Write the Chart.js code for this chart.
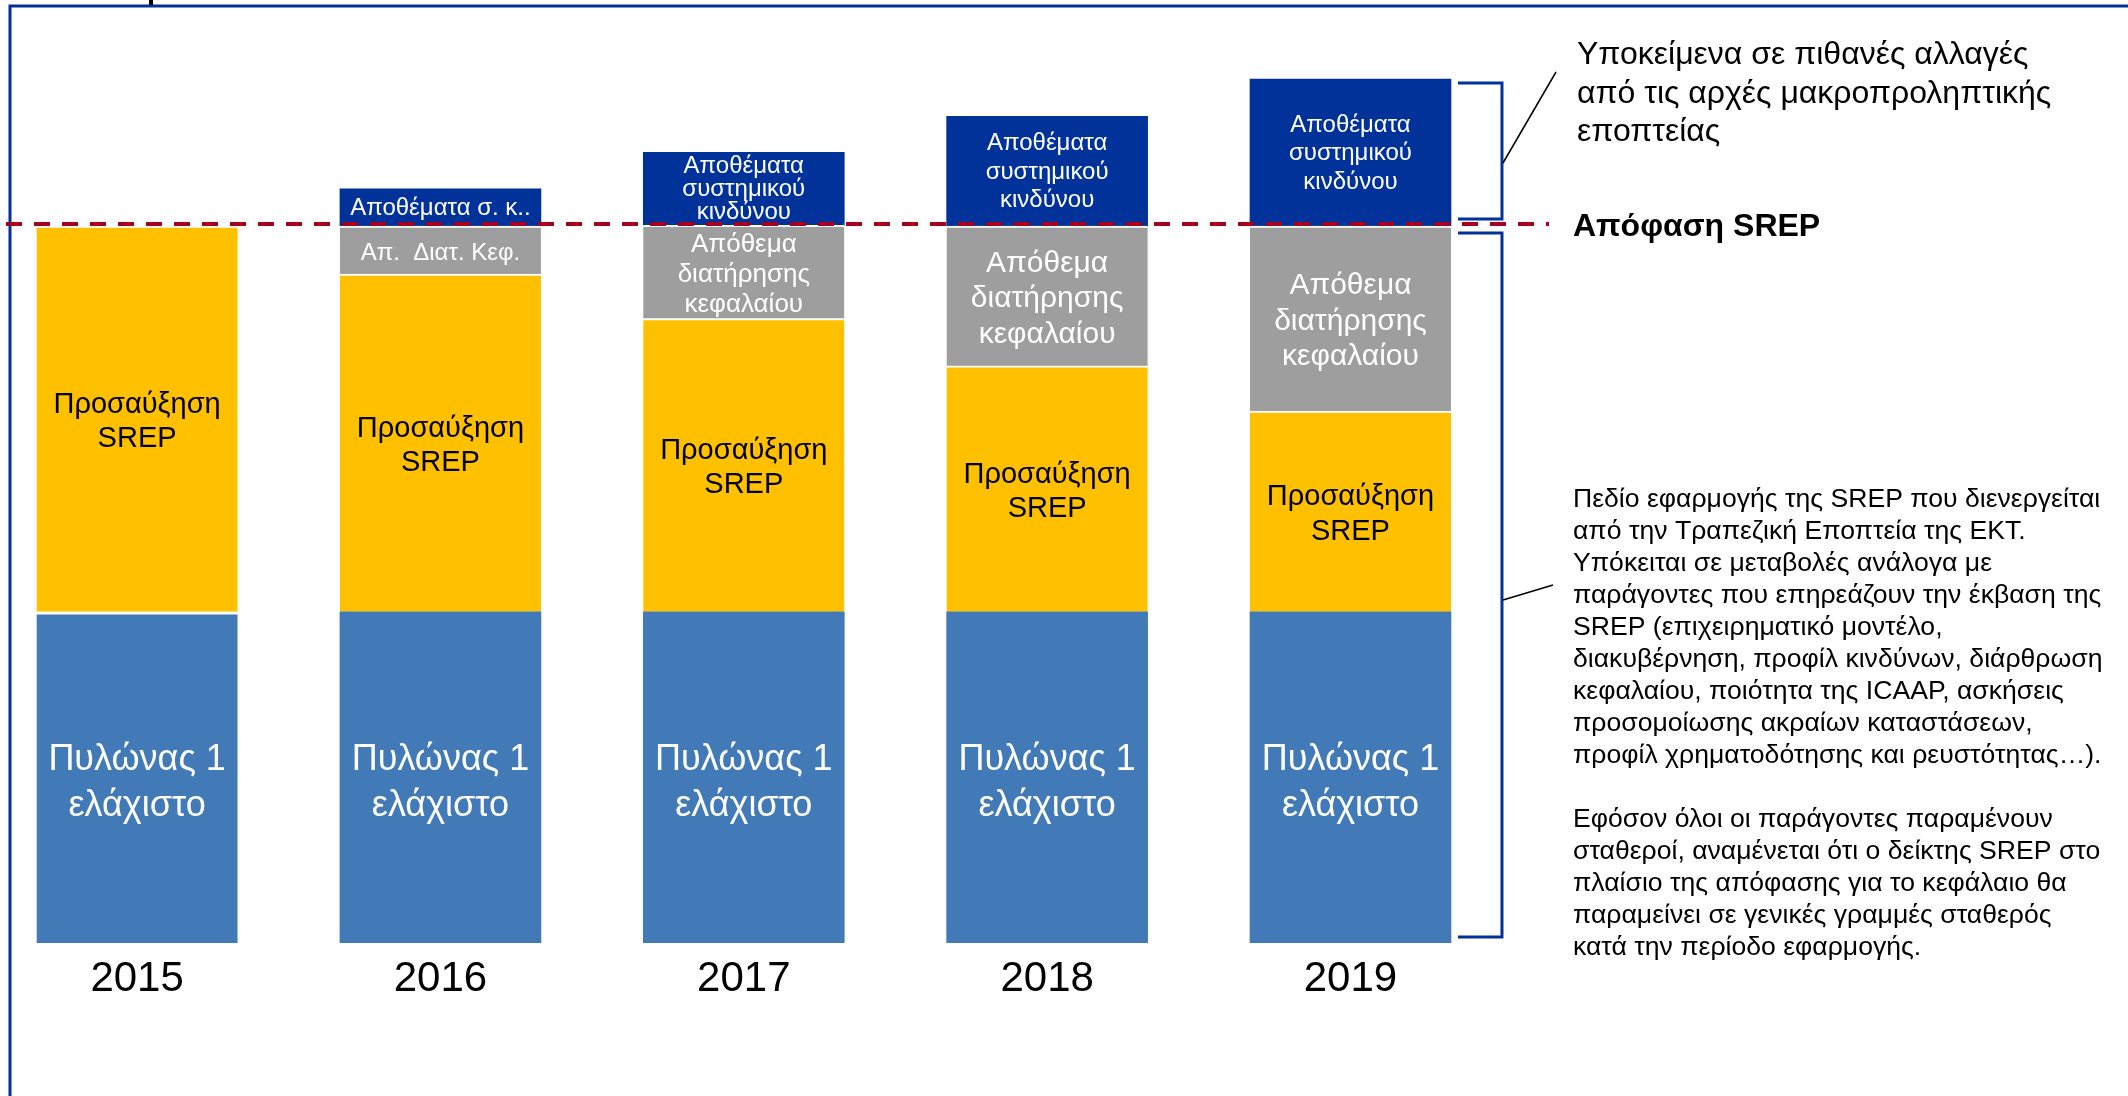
<!DOCTYPE html>
<html lang="el">
<head>
<meta charset="utf-8">
<title>Απόφαση SREP</title>
<script src="https://cdn.jsdelivr.net/npm/chart.js@4.4.1/dist/chart.umd.min.js"></script>
<style>
  html, body { margin: 0; padding: 0; background: #fff; }
  canvas { display: block; }
</style>
</head>
<body>
<canvas id="srepChart" width="2128" height="1096"></canvas>
<script>
// values (SREP decision level = 10)
const years = [2015, 2016, 2017, 2018, 2019];
const pillar1 = [4.62, 4.62, 4.62, 4.62, 4.62];
const p2rAddOn = [5.38, 4.71, 4.09, 3.43, 2.80];
const conservationBuffer = [null, 0.67, 1.30, 1.95, 2.58];
const systemicBuffer = [null, 0.52, 1.02, 1.53, 2.05];

const pillar1Labels = years.map(() => 'Πυλώνας 1\nελάχιστο');
const p2rLabels = years.map(() => 'Προσαύξηση\nSREP');
const conservationLabels = ['', 'Απ.  Διατ. Κεφ.', 'Απόθεμα\nδιατήρησης\nκεφαλαίου', 'Απόθεμα\nδιατήρησης\nκεφαλαίου', 'Απόθεμα\nδιατήρησης\nκεφαλαίου'];
const systemicLabels = ['', 'Αποθέματα σ. κ..', 'Αποθέματα\nσυστημικού\nκινδύνου', 'Αποθέματα\nσυστημικού\nκινδύνου', 'Αποθέματα\nσυστημικού\nκινδύνου'];

const macroNote = ['Υποκείμενα σε πιθανές αλλαγές', 'από τις αρχές μακροπροληπτικής', 'εποπτείας'];
const srepNote = 'Απόφαση SREP';
const scopeNote = [
    'Πεδίο εφαρμογής της SREP που διενεργείται',
    'από την Τραπεζική Εποπτεία της ΕΚΤ.',
    'Υπόκειται σε μεταβολές ανάλογα με',
    'παράγοντες που επηρεάζουν την έκβαση της',
    'SREP (επιχειρηματικό μοντέλο,',
    'διακυβέρνηση, προφίλ κινδύνων, διάρθρωση',
    'κεφαλαίου, ποιότητα της ICAAP, ασκήσεις',
    'προσομοίωσης ακραίων καταστάσεων,',
    'προφίλ χρηματοδότησης και ρευστότητας…).',
    '',
    'Εφόσον όλοι οι παράγοντες παραμένουν',
    'σταθεροί, αναμένεται ότι ο δείκτης SREP στο',
    'πλαίσιο της απόφασης για το κεφάλαιο θα',
    'παραμείνει σε γενικές γραμμές σταθερός',
    'κατά την περίοδο εφαρμογής.'
];

const FONT = '"Liberation Sans", Arial, sans-serif';
const ECB_BLUE = '#003299';

// text centred inside each stacked segment
const segmentLabels = {
    id: 'segmentLabels',
    afterDatasetsDraw(chart) {
        const ctx = chart.ctx;
        chart.data.datasets.forEach((ds, di) => {
            const meta = chart.getDatasetMeta(di);
            meta.data.forEach((bar, i) => {
                const text = ds.segLabels[i];
                if (!text) return;
                const st = ds.segStyle;
                const size = Array.isArray(st.size) ? st.size[i] : st.size;
                const lh = Array.isArray(st.lineHeight) ? st.lineHeight[i] : st.lineHeight;
                const lines = text.split('\n');
                const cy = (bar.y + bar.base) / 2 + st.dy;
                ctx.save();
                ctx.font = `${size}px ${FONT}`;
                ctx.fillStyle = st.color;
                ctx.textAlign = 'center';
                ctx.textBaseline = 'middle';
                lines.forEach((line, k) => {
                    ctx.fillText(line, bar.x, cy - (lines.length - 1) * lh / 2 + k * lh);
                });
                ctx.restore();
            });
        });
    }
};

const annotations = {
    id: 'annotations',
    afterDraw(chart) {
        const ctx = chart.ctx;
        const y = chart.scales.y;
        const srepLevel = pillar1[0] + p2rAddOn[0];
        const maxTotal = Math.max(...years.map((_, i) =>
            pillar1[i] + p2rAddOn[i] + (conservationBuffer[i] || 0) + (systemicBuffer[i] || 0)));
        const ySrep = y.getPixelForValue(srepLevel);
        const lastBar = chart.getDatasetMeta(3).data[years.length - 1];
        const bx = lastBar.x + lastBar.width / 2 + 7;

        ctx.save();
        // frame
        ctx.strokeStyle = ECB_BLUE;
        ctx.lineWidth = 3;
        ctx.beginPath();
        ctx.moveTo(10, 1096);
        ctx.lineTo(10, 6);
        ctx.lineTo(2128, 6);
        ctx.stroke();
        ctx.fillStyle = '#000';
        ctx.fillRect(149, 0, 4, 5);

        // SREP decision line
        ctx.strokeStyle = '#A50021';
        ctx.lineWidth = 4;
        ctx.setLineDash([16, 12]);
        ctx.beginPath();
        ctx.moveTo(6, ySrep - 2);
        ctx.lineTo(1549, ySrep - 2);
        ctx.stroke();
        ctx.setLineDash([]);

        // brackets
        ctx.strokeStyle = ECB_BLUE;
        ctx.lineWidth = 3;
        const bracket = (top, bottom) => {
            ctx.beginPath();
            ctx.moveTo(bx, top);
            ctx.lineTo(bx + 44, top);
            ctx.lineTo(bx + 44, bottom);
            ctx.lineTo(bx, bottom);
            ctx.stroke();
        };
        bracket(y.getPixelForValue(maxTotal) + 4, ySrep - 7);
        bracket(ySrep + 7, y.getPixelForValue(0) - 6);

        // connectors
        ctx.strokeStyle = '#000';
        ctx.lineWidth = 1.5;
        ctx.beginPath();
        ctx.moveTo(bx + 45, 163);
        ctx.lineTo(1556, 72);
        ctx.moveTo(bx + 45, 600);
        ctx.lineTo(1553, 585);
        ctx.stroke();

        // notes
        ctx.fillStyle = '#000';
        ctx.textAlign = 'left';
        ctx.textBaseline = 'alphabetic';
        ctx.font = `32px ${FONT}`;
        macroNote.forEach((line, k) => ctx.fillText(line, 1577, 64 + k * 38.5));
        ctx.font = `bold 32px ${FONT}`;
        ctx.fillText(srepNote, 1573, 236);
        ctx.font = `26.6px ${FONT}`;
        scopeNote.forEach((line, k) => ctx.fillText(line, 1573, 507 + k * 32));
        ctx.restore();
    }
};

const commonBar = { barThickness: 201, borderColor: '#fff', borderSkipped: false };

new Chart(document.getElementById('srepChart'), {
    type: 'bar',
    data: {
        labels: years,
        datasets: [
            {
                ...commonBar,
                label: 'Πυλώνας 1 ελάχιστο',
                data: pillar1,
                backgroundColor: '#427AB8',
                borderWidth: (c) => c.dataIndex === 0 ? { top: 3, bottom: 0, left: 0, right: 0 } : 0,
                segLabels: pillar1Labels,
                segStyle: { size: 36, lineHeight: 46, color: '#fff', dy: 6 }
            },
            {
                ...commonBar,
                label: 'Προσαύξηση SREP',
                data: p2rAddOn,
                backgroundColor: '#FFC000',
                borderWidth: { top: 2, bottom: 0, left: 0, right: 0 },
                segLabels: p2rLabels,
                segStyle: { size: 29, lineHeight: 34.5, color: '#000', dy: 3 }
            },
            {
                ...commonBar,
                label: 'Απόθεμα διατήρησης κεφαλαίου',
                data: conservationBuffer,
                backgroundColor: '#9E9E9E',
                borderWidth: { top: 2, bottom: 0, left: 0, right: 0 },
                segLabels: conservationLabels,
                segStyle: { size: [0, 24, 26, 30, 30], lineHeight: [0, 24, 30, 35.5, 35.5], color: '#fff', dy: 3 }
            },
            {
                ...commonBar,
                label: 'Αποθέματα συστημικού κινδύνου',
                data: systemicBuffer,
                backgroundColor: ECB_BLUE,
                borderWidth: 0,
                segLabels: systemicLabels,
                segStyle: { size: [0, 24, 24, 24, 24], lineHeight: [0, 24, 23, 28.5, 28.5], color: '#fff', dy: 1 }
            }
        ]
    },
    options: {
        responsive: false,
        animation: false,
        devicePixelRatio: 1,
        layout: { padding: { top: 11, left: 20, right: 658, bottom: 0 } },
        plugins: {
            legend: { display: false },
            tooltip: { enabled: false }
        },
        scales: {
            x: {
                type: 'linear',
                stacked: true,
                offset: false,
                min: 2014.614,
                max: 2019.394,
                grid: { display: false, drawTicks: false },
                border: { display: false },
                afterBuildTicks: (axis) => { axis.ticks = years.map(v => ({ value: v })); },
                afterFit: (scale) => { scale.height = 153; },
                ticks: {
                    autoSkip: false,
                    maxRotation: 0,
                    padding: 11,
                    color: '#000',
                    font: { family: FONT, size: 42, lineHeight: 1.2 },
                    callback: (v) => String(v)
                }
            },
            y: {
                stacked: true,
                display: false,
                min: 0,
                max: 13
            }
        }
    },
    plugins: [segmentLabels, annotations]
});
</script>
</body>
</html>
